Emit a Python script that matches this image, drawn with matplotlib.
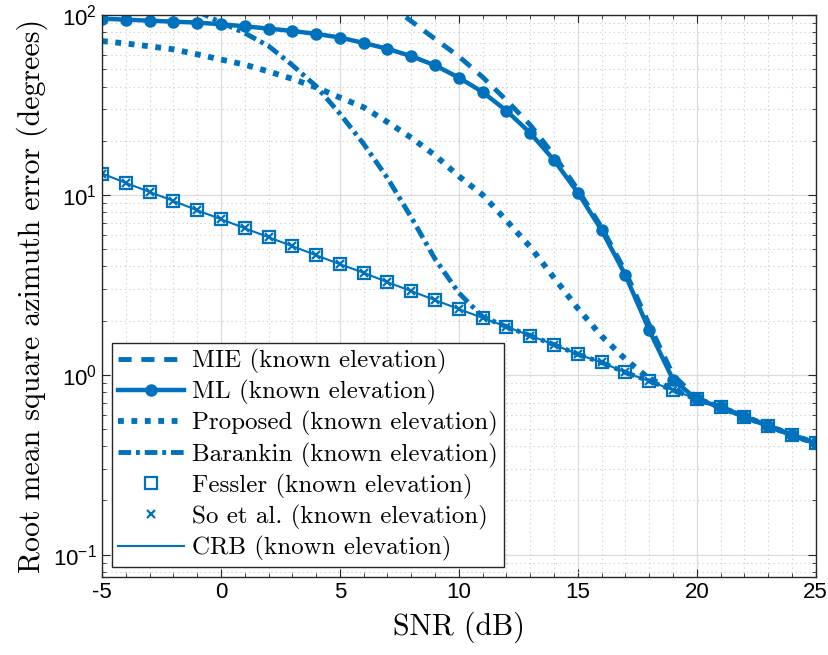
import matplotlib
matplotlib.use("Agg")
import matplotlib.pyplot as plt
from matplotlib.ticker import LogLocator, MultipleLocator, NullFormatter

# values (SNR in dB, RMSE in degrees)
snr = list(range(-5, 26))
crb = [13.15, 11.66, 10.39, 9.26, 8.22, 7.33, 6.53, 5.82, 5.19, 4.62, 4.12,
       3.69, 3.27, 2.92, 2.60, 2.32, 2.07, 1.85, 1.65, 1.47, 1.30, 1.17,
       1.03, 0.923, 0.822, 0.733, 0.659, 0.585, 0.521, 0.462, 0.416]
fessler = [13.15, 11.66, 10.39, 9.26, 8.22, 7.33, 6.53, 5.82, 5.19, 4.62, 4.12,
           3.69, 3.27, 2.92, 2.60, 2.32, 2.07, 1.85, 1.65, 1.47, 1.30, 1.17,
           1.03, 0.923, 0.822, 0.733, 0.659, 0.585, 0.521, 0.462, 0.416]
so_etal = [13.15, 11.66, 10.39, 9.26, 8.22, 7.33, 6.53, 5.82, 5.19, 4.62, 4.12,
           3.69, 3.27, 2.92, 2.60, 2.32, 2.07, 1.85, 1.65, 1.47, 1.30, 1.17,
           1.03, 0.923, 0.822, 0.733, 0.659, 0.585, 0.521, 0.462, 0.416]
ml = [95.5, 94.3, 93.1, 91.9, 90.8, 88.9, 86.6, 84.1, 81.6, 78.6, 75.0,
      70.0, 64.9, 59.1, 52.5, 44.9, 37.3, 29.4, 22.1, 15.6, 10.3, 6.37,
      3.58, 1.77, 0.94, 0.73, 0.66, 0.585, 0.52, 0.462, 0.416]
proposed = [71.7, 69.5, 67.0, 64.5, 60.5, 56.6, 53.0, 48.6, 44.2, 39.6, 34.8,
            30.7, 25.4, 20.8, 16.6, 12.7, 10.0, 7.2, 5.14, 3.46, 2.34, 1.64,
            1.22, 0.95, 0.83, 0.735, 0.66, 0.585, 0.521, 0.462, 0.416]
mie_snr = list(range(7, 26))
mie = [116, 92.5, 73.6, 58.9, 45.2, 33.6, 24.5, 16.6, 10.7, 6.6, 3.75,
       1.9, 1.0, 0.74, 0.66, 0.585, 0.52, 0.462, 0.416]
bar_snr = list(range(-1, 26))
barankin = [105, 91, 79.4, 67.3, 52.7, 40.2, 28.3, 19.2, 12.4, 7.5, 4.4,
            2.85, 2.1, 1.85, 1.65, 1.47, 1.30, 1.17, 1.03, 0.923, 0.822,
            0.733, 0.659, 0.585, 0.521, 0.462, 0.416]
xtick_vals = [-5, 0, 5, 10, 15, 20, 25]
xtick_labels = ["-5", "0", "5", "10", "15", "20", "25"]

plt.rcParams["mathtext.fontset"] = "custom"
plt.rcParams["mathtext.rm"] = "Liberation Sans"
plt.rcParams["mathtext.it"] = "Liberation Sans:italic"
plt.rcParams["axes.formatter.use_mathtext"] = True

blue = "#0072BD"
lw = 3.5

fig = plt.figure(figsize=(8.29, 6.55), dpi=100)
ax = fig.add_axes([0.123, 0.119, 0.861, 0.858])

ax.plot(mie_snr, mie, color=blue, lw=lw, dashes=(2.7, 2.0),
        label="MIE (known elevation)")
ax.plot(snr, ml, color=blue, lw=3.2, marker="o", ms=8,
        label="ML (known elevation)")
ax.plot(snr, proposed, color=blue, lw=4.2, dashes=(1.0, 1.3),
        label="Proposed (known elevation)")
ax.plot(bar_snr, barankin, color=blue, lw=lw, dashes=(2.6, 1.0, 0.8, 1.0),
        label="Barankin (known elevation)")
ax.plot(snr, fessler, color=blue, ls="none", marker="s", ms=8, mfc="none",
        mew=1.6, label="Fessler (known elevation)")
ax.plot(snr, so_etal, color=blue, ls="none", marker="x", ms=6, mew=1.6,
        label="So et al. (known elevation)")
ax.plot(snr, crb, color=blue, lw=1.5, label="CRB (known elevation)")

ax.set_yscale("log")
ax.set_xlim(-5, 25)
ax.set_ylim(0.075, 100)
ax.set_xticks(xtick_vals)
ax.set_xticklabels(xtick_labels)
ax.xaxis.set_minor_locator(MultipleLocator(1))
ax.yaxis.set_major_locator(LogLocator(base=10, numticks=10))
ax.yaxis.set_minor_locator(LogLocator(base=10, subs=range(2, 10), numticks=20))
ax.yaxis.set_minor_formatter(NullFormatter())

ax.grid(True, which="major", color="#dcdcdc", lw=0.9)
ax.grid(True, which="minor", color="#c8c8c8", lw=0.8, ls=(0, (1, 3)))
ax.set_axisbelow(True)
ax.tick_params(which="both", direction="in", top=True, right=True,
               labelsize=16, color="#262626")
ax.tick_params(which="major", length=6)
ax.tick_params(which="minor", length=3)
for lab in ax.get_xticklabels() + ax.get_yticklabels():
    lab.set_family("Liberation Sans")
for s in ax.spines.values():
    s.set_color("#262626")
    s.set_linewidth(1.0)

ax.set_xlabel("SNR (dB)", family="cmr10", fontsize=21.5, labelpad=6)
ax.set_ylabel("Root mean square azimuth error (degrees)", family="cmr10",
              fontsize=21.5, labelpad=4)

leg = ax.legend(loc="lower left", prop={"family": "cmr10", "size": 18},
                handlelength=2.65, handletextpad=0.3, labelspacing=0.24,
                borderaxespad=0.4, fancybox=False, framealpha=1,
                edgecolor="#262626", borderpad=0.25)
leg.get_frame().set_linewidth(1.0)

fig.savefig("out.png", dpi=100)
